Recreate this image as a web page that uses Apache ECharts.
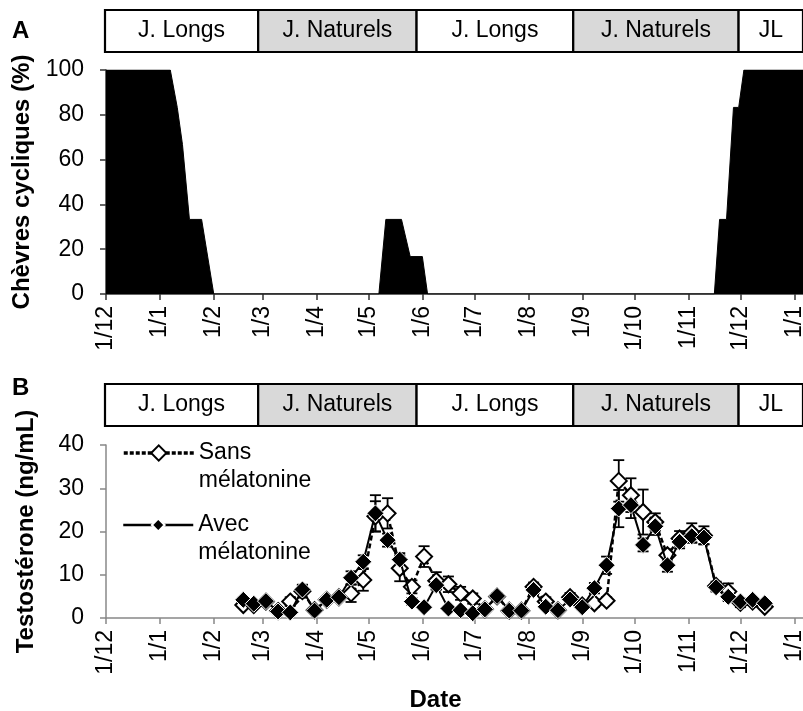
<!DOCTYPE html>
<html><head><meta charset="utf-8">
<script src="https://cdn.jsdelivr.net/npm/echarts@6/dist/echarts.min.js"></script>
<style>html,body{margin:0;padding:0;background:#fff}#c{width:803px;height:711px}</style>
</head><body><div id="c"></div>
<script>
// ---- Panel A: % cyclic goats ----
const cyclicDates = ['2010-12-01','2011-01-07','2011-01-11','2011-01-14','2011-01-18','2011-01-25','2011-02-01',
  '2011-05-07','2011-05-11','2011-05-20','2011-05-25','2011-06-01','2011-06-04',
  '2011-11-16','2011-11-19','2011-11-23','2011-11-27','2011-11-30','2011-12-03','2012-01-06'];
const cyclicPct = [100,100,83.3,66.7,33.3,33.3,0, 0,33.3,33.3,16.7,16.7,0, 0,33.3,33.3,83.3,83.3,100,100];

// ---- Panel B: testosterone ----
const sampleDates = ['2011-02-18','2011-02-24','2011-03-03','2011-03-10','2011-03-17','2011-03-24','2011-03-31',
  '2011-04-07','2011-04-14','2011-04-21','2011-04-28','2011-05-05','2011-05-12','2011-05-19','2011-05-26',
  '2011-06-02','2011-06-09','2011-06-16','2011-06-23','2011-06-30','2011-07-07','2011-07-14','2011-07-21',
  '2011-07-28','2011-08-04','2011-08-11','2011-08-18','2011-08-25','2011-09-01','2011-09-08','2011-09-15',
  '2011-09-22','2011-09-29','2011-10-06','2011-10-13','2011-10-20','2011-10-27','2011-11-03','2011-11-10',
  '2011-11-17','2011-11-24','2011-12-01','2011-12-08','2011-12-15'];
const sansValues = [3.0,3.0,3.8,1.6,3.8,6.2,1.8,4.2,4.8,5.7,8.8,23.5,24.2,11.5,7.2,14.2,8.6,7.8,5.7,4.5,2.0,5.0,
  1.7,1.7,7.2,3.8,1.8,4.8,2.9,3.4,4.0,31.7,28.4,24.5,22.2,14.5,18.4,19.7,19.1,7.4,6.1,3.5,3.8,2.6];
const sansErr = [0.5,0.5,0.5,0.5,1.0,1.5,0.5,0.5,0.5,2.0,2.5,3.5,3.5,3.0,1.5,2.4,2.0,1.8,1.5,1.2,0.5,0.8,
  0.5,0.5,1.0,1.0,0.5,1.0,0.6,0.8,0.8,4.8,3.9,5.2,2.0,1.4,1.7,2.2,2.1,1.0,1.9,1.0,0.8,0.5];
const avecValues = [4.2,3.3,3.9,1.5,1.3,6.6,1.7,4.2,4.8,9.3,13.0,24.2,18.0,13.5,3.8,2.5,7.6,2.2,1.8,1.1,2.0,5.1,
  1.7,1.7,6.5,2.6,1.8,4.3,2.5,6.9,12.2,25.3,26.1,16.9,21.2,12.2,17.6,18.9,18.6,7.1,4.9,3.8,4.2,3.4];
const avecErr = [0.5,0.5,0.5,0.5,0.5,1.0,0.5,0.5,0.5,1.5,1.5,4.2,1.5,1.5,0.8,0.5,1.0,0.5,0.5,0.5,0.5,0.5,
  0.5,0.5,1.0,0.5,0.5,0.5,0.5,1.2,2.0,4.3,3.0,1.5,2.0,1.5,1.5,1.5,1.5,1.0,1.0,0.5,0.5,0.5];

// ---- Photoperiod bands ----
const bandStarts = ['2010-12-01','2011-02-27','2011-05-29','2011-08-27','2011-11-30'];
const bandEnds   = ['2011-02-27','2011-05-29','2011-08-27','2011-11-30','2012-01-06'];
const bandLabels = ['J. Longs','J. Naturels','J. Longs','J. Naturels','JL'];

const yTicksA = [0, 100, 20];
const yTicksB = [0, 40, 10];

const FONT = '"Liberation Sans", Arial, sans-serif';
const FS = 23;

// daily categories
const days = [];
for (let t = Date.UTC(2010,11,1); t <= Date.UTC(2012,0,6); t += 86400000) days.push(new Date(t).toISOString().slice(0,10));
const di = d => days.indexOf(d);
const isMonthStart = (i, v) => v.slice(8) === '01';

function xAxisCfg(grid, show, color) {
  return {
    type: 'category', gridIndex: grid, data: days, boundaryGap: false, show: show,
    axisLine: {show: show, lineStyle: {color: color, width: 1.5}},
    axisTick: {show: show, interval: isMonthStart, length: 6, lineStyle: {color: color, width: 1.5}},
    axisLabel: {show: show, interval: isMonthStart, rotate: 90, margin: 12, color: '#000',
      fontSize: FS, fontFamily: FONT, formatter: v => '1/' + Number(v.slice(5,7))},
    splitLine: {show: false}
  };
}
function yAxisCfg(grid, t, name, color) {
  return {
    type: 'value', gridIndex: grid, min: t[0], max: t[1], interval: t[2],
    name: name, nameLocation: 'middle', nameGap: 68,
    nameTextStyle: {fontSize: 24, fontWeight: 'bold', fontFamily: FONT, color: '#000'},
    axisLine: {show: true, lineStyle: {color: color, width: 1.5}},
    axisTick: {show: true, length: 6, lineStyle: {color: color, width: 1.5}},
    axisLabel: {margin: 22, color: '#000', fontSize: FS, fontFamily: FONT},
    splitLine: {show: false}
  };
}
function errRender(params, api) {
  const x = api.value(0);
  const lo = api.coord([x, api.value(1)]);
  const hi = api.coord([x, api.value(2)]);
  const w = 5.5;
  const st = {stroke: '#000', lineWidth: 1.8};
  return {type: 'group', children: [
    {type: 'line', shape: {x1: hi[0], y1: hi[1], x2: lo[0], y2: lo[1]}, style: st},
    {type: 'line', shape: {x1: hi[0]-w, y1: hi[1], x2: hi[0]+w, y2: hi[1]}, style: st},
    {type: 'line', shape: {x1: lo[0]-w, y1: lo[1], x2: lo[0]+w, y2: lo[1]}, style: st}
  ]};
}
function bandRender(params, api) {
  const i = params.dataIndex;
  const p0 = api.coord([api.value(0), 0]);
  const p1 = api.coord([api.value(1), 0]);
  const cs = params.coordSys;
  return {
    type: 'rect',
    shape: {x: p0[0], y: cs.y, width: p1[0] - p0[0], height: cs.height},
    style: {fill: i % 2 ? '#d9d9d9' : '#ffffff', stroke: '#000', lineWidth: 2.2},
    textContent: {style: {text: bandLabels[i], fill: '#000', fontSize: FS, fontFamily: FONT}},
    textConfig: {position: 'inside'}
  };
}
const bandData = bandStarts.map((s, i) => [di(s), di(bandEnds[i])]);
const legendText = n => ' \n' + n.replace(' ', '\n');

const chart = echarts.init(document.getElementById('c'), null, {renderer: 'canvas'});
chart.setOption({
  animation: false,
  backgroundColor: '#fff',
  title: [
    {text: 'A', left: 12, top: 19, padding: 0, textStyle: {fontSize: 24, fontWeight: 'bold', fontFamily: FONT, color: '#000'}},
    {text: 'B', left: 12, top: 376, padding: 0, textStyle: {fontSize: 24, fontWeight: 'bold', fontFamily: FONT, color: '#000'}}
  ],
  grid: [
    {left: 106, right: 0, top: 70, height: 224, outerBoundsMode: 'none'},
    {left: 106, right: 0, top: 445, height: 173, outerBoundsMode: 'none'},
    {left: 105, right: 0, top: 10, height: 42, outerBoundsMode: 'none'},
    {left: 105, right: 0, top: 384, height: 42, outerBoundsMode: 'none'}
  ],
  xAxis: [
    xAxisCfg(0, true, '#333'),
    Object.assign(xAxisCfg(1, true, '#888'), {name: 'Date', nameLocation: 'middle', nameGap: 70,
      nameTextStyle: {fontSize: 24, fontWeight: 'bold', fontFamily: FONT, color: '#000', padding: [0, 38, 0, 0]}}),
    xAxisCfg(2, false, '#000'),
    xAxisCfg(3, false, '#000')
  ],
  yAxis: [
    yAxisCfg(0, yTicksA, 'Chèvres cycliques (%)', '#333'),
    yAxisCfg(1, yTicksB, 'Testostérone (ng/mL)', '#888'),
    {type: 'value', gridIndex: 2, min: 0, max: 1, show: false},
    {type: 'value', gridIndex: 3, min: 0, max: 1, show: false}
  ],
  legend: [
    {data: ['Sans mélatonine'], left: 122, top: 411, padding: 0, itemWidth: 70, itemHeight: 19, itemGap: 0,
      formatter: legendText, lineStyle: {width: 3.5, type: [4, 2]},
      textStyle: {fontSize: FS, fontFamily: FONT, color: '#000', lineHeight: 28}},
    {data: ['Avec mélatonine'], left: 122, top: 483, padding: 0, itemWidth: 70, itemHeight: 16, itemGap: 0,
      formatter: legendText, lineStyle: {width: 2.5},
      textStyle: {fontSize: FS, fontFamily: FONT, color: '#000', lineHeight: 28}}
  ],
  series: [
    {type: 'line', xAxisIndex: 0, yAxisIndex: 0, symbol: 'none',
      data: cyclicDates.map((d, i) => [di(d), cyclicPct[i]]),
      lineStyle: {color: '#000', width: 1}, areaStyle: {color: '#000', opacity: 1}, z: 3},
    {type: 'custom', name: 'errS', xAxisIndex: 1, yAxisIndex: 1, renderItem: errRender, z: 2,
      encode: {x: 0, y: [1, 2]},
      data: sampleDates.map((d, i) => [di(d), sansValues[i] - sansErr[i], sansValues[i] + sansErr[i]])},
    {type: 'custom', name: 'errA', xAxisIndex: 1, yAxisIndex: 1, renderItem: errRender, z: 2,
      encode: {x: 0, y: [1, 2]},
      data: sampleDates.map((d, i) => [di(d), avecValues[i] - avecErr[i], avecValues[i] + avecErr[i]])},
    {type: 'line', name: 'Sans mélatonine', xAxisIndex: 1, yAxisIndex: 1, z: 3,
      data: sampleDates.map((d, i) => [di(d), sansValues[i]]),
      symbol: 'diamond', symbolSize: 16, showSymbol: true, showAllSymbol: true,
      lineStyle: {color: '#000', width: 2.5, type: [5, 3]},
      itemStyle: {color: '#fff', borderColor: '#000', borderWidth: 2}},
    {type: 'line', name: 'Avec mélatonine', xAxisIndex: 1, yAxisIndex: 1, z: 4,
      data: sampleDates.map((d, i) => [di(d), avecValues[i]]),
      symbol: 'diamond', symbolSize: 17, showSymbol: true, showAllSymbol: true,
      lineStyle: {color: '#000', width: 2},
      itemStyle: {color: '#000', borderColor: '#fff', borderWidth: 1}},
    {type: 'custom', xAxisIndex: 2, yAxisIndex: 2, renderItem: bandRender, encode: {x: [0, 1]}, data: bandData, z: 2},
    {type: 'custom', xAxisIndex: 3, yAxisIndex: 3, renderItem: bandRender, encode: {x: [0, 1]}, data: bandData, z: 2}
  ]
});
</script></body></html>
